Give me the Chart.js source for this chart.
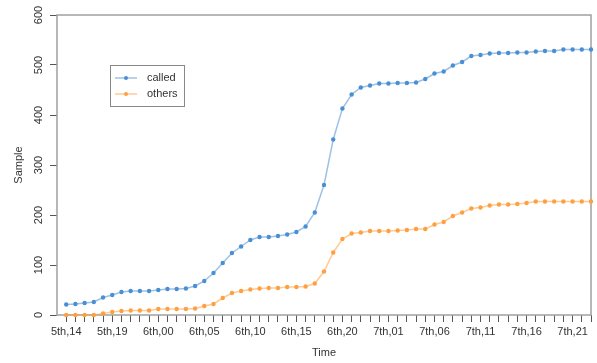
<!DOCTYPE html>
<html>
<head>
<meta charset="utf-8">
<script src="https://cdn.jsdelivr.net/npm/chart.js@4/dist/chart.umd.min.js"></script>
<style>
  html, body { margin: 0; padding: 0; background: #fff; }
  #wrap { width: 597px; height: 363px; }
</style>
</head>
<body>
<div id="wrap"><canvas id="c" width="597" height="363"></canvas></div>
<script>
// Hourly time stamps (day, hour)
const categories = [
  "5th,14","5th,15","5th,16","5th,17","5th,18","5th,19","5th,20","5th,21","5th,22","5th,23",
  "6th,00","6th,01","6th,02","6th,03","6th,04","6th,05","6th,06","6th,07","6th,08","6th,09",
  "6th,10","6th,11","6th,12","6th,13","6th,14","6th,15","6th,16","6th,17","6th,18","6th,19",
  "6th,20","6th,21","6th,22","6th,23","7th,00","7th,01","7th,02","7th,03","7th,04","7th,05",
  "7th,06","7th,07","7th,08","7th,09","7th,10","7th,11","7th,12","7th,13","7th,14","7th,15",
  "7th,16","7th,17","7th,18","7th,19","7th,20","7th,21","7th,22","7th,23"
];

// Cumulative sample counts
const called = [
  21, 22, 24, 26, 35, 40, 46, 48, 48, 48,
  50, 52, 52, 53, 58, 68, 84, 104, 124, 137,
  150, 156, 156, 158, 161, 166, 177, 205, 260, 351,
  413, 441, 455, 459, 463, 463, 464, 464, 465, 472,
  483, 487, 499, 506, 518, 520, 523, 524, 524, 525,
  525, 527, 528, 528, 531, 531, 531, 531
];
const others = [
  0, 0, 0, 0, 3, 6, 8, 9, 9, 9,
  12, 12, 12, 12, 13, 18, 22, 34, 44, 48,
  51, 53, 54, 54, 56, 56, 57, 63, 87, 125,
  152, 163, 165, 168, 168, 168, 169, 170, 172, 172,
  181, 186, 198, 205, 213, 215, 219, 221, 221, 222,
  224, 227, 227, 227, 227, 227, 227, 227
];

// Axis tick labels
const xTickLabels = ["5th,14","5th,19","6th,00","6th,05","6th,10","6th,15","6th,20","7th,01","7th,06","7th,11","7th,16","7th,21"];
const yTicks = [0, 100, 200, 300, 400, 500, 600];

const seriesNames = ["called", "others"];
const pointColors = ["#4a8fd4", "#ffa040"];
const lineColors = ["rgba(74,143,212,0.55)", "rgba(255,160,64,0.55)"];

const FONT = '"Liberation Sans", Arial, sans-serif';
const TEXT = "#333";

function toPoints(vals) {
  return vals.map((v, i) => ({ x: i + 1, y: v }));
}

const overlay = {
  id: "overlay",
  beforeDatasetsDraw(chart) {
    const { ctx, chartArea: a } = chart;
    ctx.save();
    ctx.strokeStyle = "#a0a0a0";
    ctx.lineWidth = 1.5;
    ctx.strokeRect(a.left, a.top, a.right - a.left, a.bottom - a.top);
    ctx.restore();
  },
  afterDraw(chart) {
    const { ctx, chartArea: a } = chart;
    const ys = chart.scales.y;
    ctx.save();
    ctx.fillStyle = TEXT;
    ctx.font = "11px " + FONT;
    ctx.textAlign = "center";
    ctx.textBaseline = "middle";
    // rotated y tick labels
    yTicks.forEach(v => {
      const py = ys.getPixelForValue(v);
      ctx.save();
      ctx.translate(39, py);
      ctx.rotate(-Math.PI / 2);
      ctx.fillText(String(v), 0, 0);
      ctx.restore();
    });
    // axis titles
    ctx.save();
    ctx.translate(19, (a.top + a.bottom) / 2);
    ctx.rotate(-Math.PI / 2);
    ctx.fillText("Sample", 0, 0);
    ctx.restore();
    ctx.fillText("Time", (a.left + a.right) / 2, 353);

    // legend
    const bx = 110, by = 65, bw = 74, bh = 41;
    ctx.fillStyle = "#fff";
    ctx.fillRect(bx, by, bw, bh);
    ctx.strokeStyle = "#888";
    ctx.lineWidth = 1;
    ctx.strokeRect(bx + 0.5, by + 0.5, bw, bh);
    const rows = [78, 94];
    seriesNames.forEach((name, i) => {
      const ry = rows[i];
      ctx.strokeStyle = lineColors[i];
      ctx.lineWidth = 1.5;
      ctx.beginPath();
      ctx.moveTo(115, ry);
      ctx.lineTo(137, ry);
      ctx.stroke();
      ctx.fillStyle = pointColors[i];
      ctx.beginPath();
      ctx.arc(126, ry, 2, 0, Math.PI * 2);
      ctx.fill();
      ctx.fillStyle = TEXT;
      ctx.textAlign = "left";
      ctx.fillText(name, 147, ry);
    });
    ctx.restore();
  }
};

new Chart(document.getElementById("c"), {
  type: "line",
  data: {
    datasets: [called, others].map((vals, i) => ({
      label: seriesNames[i],
      data: toPoints(vals),
      borderColor: lineColors[i],
      backgroundColor: pointColors[i],
      pointBackgroundColor: pointColors[i],
      pointBorderWidth: 0,
      pointRadius: 2.2,
      borderWidth: 1.5,
      tension: 0,
      clip: false
    }))
  },
  options: {
    responsive: false,
    animation: false,
    devicePixelRatio: 1,
    layout: { padding: { left: 0, top: 15, right: 6, bottom: 0 } },
    plugins: { legend: { display: false }, tooltip: { enabled: false } },
    scales: {
      x: {
        type: "linear",
        min: 0,
        max: categories.length,
        afterBuildTicks(s) {
          s.ticks = categories.map((c, i) => ({ value: i + 1 }));
        },
        afterFit(s) { s.height = 48; },
        ticks: {
          autoSkip: false,
          maxRotation: 0,
          minRotation: 0,
          padding: 3,
          color: TEXT,
          font: { family: FONT, size: 11 },
          callback(v) {
            const lab = categories[v - 1];
            return xTickLabels.includes(lab) ? lab : "";
          }
        },
        grid: { drawOnChartArea: false, drawTicks: true, tickLength: 7, color: "#555", lineWidth: 1 },
        border: { display: false }
      },
      y: {
        min: 0,
        max: 600,
        afterBuildTicks(s) {
          s.ticks = yTicks.map(v => ({ value: v }));
        },
        afterFit(s) { s.width = 57; },
        ticks: { display: false },
        grid: { drawOnChartArea: false, drawTicks: true, tickLength: 7, color: "#555", lineWidth: 1 },
        border: { display: false }
      }
    }
  },
  plugins: [overlay]
});
</script>
</body>
</html>
